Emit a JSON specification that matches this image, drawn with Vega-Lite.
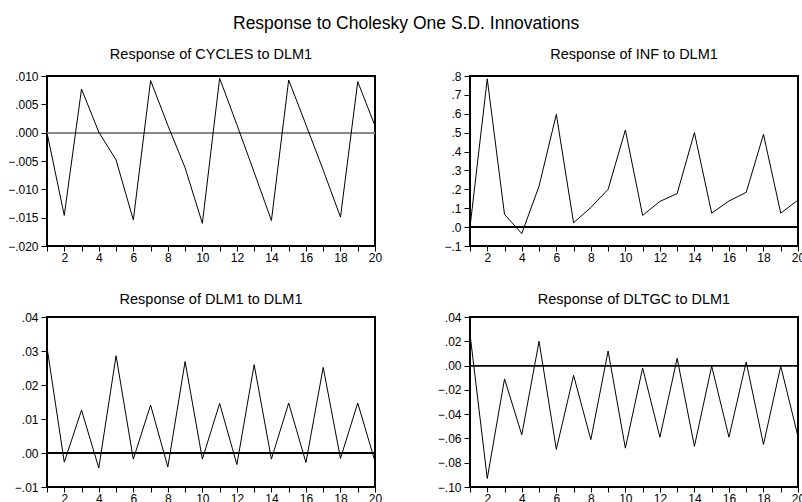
{
  "$schema": "https://vega.github.io/schema/vega-lite/v6.json",
  "background": "white",
  "padding": {"left": 6, "top": 15, "right": 0, "bottom": 0},
  "title": {"text": "Response to Cholesky One S.D. Innovations", "fontSize": 17.5, "fontWeight": "normal", "font": "Liberation Sans", "color": "black", "offset": 13, "anchor": "middle"},
  "config": {
    "font": "Liberation Sans",
    "view": {"stroke": "black", "strokeWidth": 2},
    "axis": {"grid": false, "domain": false, "tickColor": "black", "labelColor": "black", "labelFont": "Liberation Sans", "labelFontSize": 12, "labelOverlap": false, "title": null, "tickCount": 40},
    "axisY": {"tickSize": 6, "labelPadding": 3},
    "axisX": {"tickSize": 5, "labelPadding": 1},
    "line": {"color": "black", "strokeWidth": 1}
  },
  "bounds": "flush",
  "columns": 2,
  "spacing": {"row": 71, "column": 95},
  "datasets": {
    "irf": [
      {"resp": "CYCLES", "step": 1, "value": 0.0000},
      {"resp": "CYCLES", "step": 2, "value": -0.0146},
      {"resp": "CYCLES", "step": 3, "value": 0.0077},
      {"resp": "CYCLES", "step": 4, "value": 0.0001},
      {"resp": "CYCLES", "step": 5, "value": -0.0048},
      {"resp": "CYCLES", "step": 6, "value": -0.0154},
      {"resp": "CYCLES", "step": 7, "value": 0.0092},
      {"resp": "CYCLES", "step": 8, "value": 0.0013},
      {"resp": "CYCLES", "step": 9, "value": -0.0062},
      {"resp": "CYCLES", "step": 10, "value": -0.0160},
      {"resp": "CYCLES", "step": 11, "value": 0.0096},
      {"resp": "CYCLES", "step": 12, "value": 0.0014},
      {"resp": "CYCLES", "step": 13, "value": -0.0070},
      {"resp": "CYCLES", "step": 14, "value": -0.0155},
      {"resp": "CYCLES", "step": 15, "value": 0.0093},
      {"resp": "CYCLES", "step": 16, "value": 0.0014},
      {"resp": "CYCLES", "step": 17, "value": -0.0066},
      {"resp": "CYCLES", "step": 18, "value": -0.0149},
      {"resp": "CYCLES", "step": 19, "value": 0.0090},
      {"resp": "CYCLES", "step": 20, "value": 0.0012},
      {"resp": "INF", "step": 1, "value": 0.0},
      {"resp": "INF", "step": 2, "value": 0.785},
      {"resp": "INF", "step": 3, "value": 0.067},
      {"resp": "INF", "step": 4, "value": -0.034},
      {"resp": "INF", "step": 5, "value": 0.217},
      {"resp": "INF", "step": 6, "value": 0.597},
      {"resp": "INF", "step": 7, "value": 0.023},
      {"resp": "INF", "step": 8, "value": 0.104},
      {"resp": "INF", "step": 9, "value": 0.200},
      {"resp": "INF", "step": 10, "value": 0.514},
      {"resp": "INF", "step": 11, "value": 0.062},
      {"resp": "INF", "step": 12, "value": 0.136},
      {"resp": "INF", "step": 13, "value": 0.178},
      {"resp": "INF", "step": 14, "value": 0.500},
      {"resp": "INF", "step": 15, "value": 0.074},
      {"resp": "INF", "step": 16, "value": 0.138},
      {"resp": "INF", "step": 17, "value": 0.184},
      {"resp": "INF", "step": 18, "value": 0.491},
      {"resp": "INF", "step": 19, "value": 0.074},
      {"resp": "INF", "step": 20, "value": 0.143},
      {"resp": "DLM1", "step": 1, "value": 0.0311},
      {"resp": "DLM1", "step": 2, "value": -0.0027},
      {"resp": "DLM1", "step": 3, "value": 0.0126},
      {"resp": "DLM1", "step": 4, "value": -0.0044},
      {"resp": "DLM1", "step": 5, "value": 0.0286},
      {"resp": "DLM1", "step": 6, "value": -0.0018},
      {"resp": "DLM1", "step": 7, "value": 0.0141},
      {"resp": "DLM1", "step": 8, "value": -0.0041},
      {"resp": "DLM1", "step": 9, "value": 0.0269},
      {"resp": "DLM1", "step": 10, "value": -0.0018},
      {"resp": "DLM1", "step": 11, "value": 0.0146},
      {"resp": "DLM1", "step": 12, "value": -0.0034},
      {"resp": "DLM1", "step": 13, "value": 0.0260},
      {"resp": "DLM1", "step": 14, "value": -0.0018},
      {"resp": "DLM1", "step": 15, "value": 0.0147},
      {"resp": "DLM1", "step": 16, "value": -0.0028},
      {"resp": "DLM1", "step": 17, "value": 0.0252},
      {"resp": "DLM1", "step": 18, "value": -0.0016},
      {"resp": "DLM1", "step": 19, "value": 0.0147},
      {"resp": "DLM1", "step": 20, "value": -0.0025},
      {"resp": "DLTGC", "step": 1, "value": 0.026},
      {"resp": "DLTGC", "step": 2, "value": -0.093},
      {"resp": "DLTGC", "step": 3, "value": -0.011},
      {"resp": "DLTGC", "step": 4, "value": -0.057},
      {"resp": "DLTGC", "step": 5, "value": 0.020},
      {"resp": "DLTGC", "step": 6, "value": -0.069},
      {"resp": "DLTGC", "step": 7, "value": -0.008},
      {"resp": "DLTGC", "step": 8, "value": -0.061},
      {"resp": "DLTGC", "step": 9, "value": 0.012},
      {"resp": "DLTGC", "step": 10, "value": -0.068},
      {"resp": "DLTGC", "step": 11, "value": -0.002},
      {"resp": "DLTGC", "step": 12, "value": -0.059},
      {"resp": "DLTGC", "step": 13, "value": 0.006},
      {"resp": "DLTGC", "step": 14, "value": -0.0665},
      {"resp": "DLTGC", "step": 15, "value": -0.0005},
      {"resp": "DLTGC", "step": 16, "value": -0.059},
      {"resp": "DLTGC", "step": 17, "value": 0.003},
      {"resp": "DLTGC", "step": 18, "value": -0.065},
      {"resp": "DLTGC", "step": 19, "value": -0.0005},
      {"resp": "DLTGC", "step": 20, "value": -0.0585}
    ]
  },
  "concat": [
    {
      "width": 328, "height": 170,
      "title": {"text": "Response of CYCLES to DLM1", "fontSize": 14.5, "fontWeight": "normal", "font": "Liberation Sans", "color": "black", "offset": 8},
      "data": {"name": "irf"},
      "transform": [{"filter": "datum.resp === 'CYCLES'"}],
      "layer": [
        {"mark": {"type": "rule", "color": "#888888", "strokeWidth": 1.5}, "encoding": {"y": {"datum": 0, "type": "quantitative", "axis": {"tickCount": 40}}}},
        {"mark": "line", "encoding": {
          "x": {"field": "step", "type": "quantitative", "scale": {"domain": [1, 20], "nice": false, "zero": false}, "axis": {"values": [1,2,3,4,5,6,7,8,9,10,11,12,13,14,15,16,17,18,19,20], "tickCount": 40, "labelExpr": "datum.value % 2 === 0 ? datum.value : ''", "labelFlush": false}},
          "y": {"field": "value", "type": "quantitative", "scale": {"domain": [-0.02, 0.01], "nice": false, "zero": false}, "axis": {"values": [-0.02, -0.015, -0.01, -0.005, 0, 0.005, 0.01], "tickCount": 40, "labelExpr": "replace(format(datum.value, '.3f'), '0.', '.')", "labelFlush": false}}
        }}
      ]
    },
    {
      "width": 328, "height": 170,
      "title": {"text": "Response of INF to DLM1", "fontSize": 14.5, "fontWeight": "normal", "font": "Liberation Sans", "color": "black", "offset": 8},
      "data": {"name": "irf"},
      "transform": [{"filter": "datum.resp === 'INF'"}],
      "layer": [
        {"mark": {"type": "rule", "color": "black", "strokeWidth": 0.9}, "encoding": {"y": {"datum": 0, "type": "quantitative", "axis": {"tickCount": 40}}}},
        {"mark": "line", "encoding": {
          "x": {"field": "step", "type": "quantitative", "scale": {"domain": [1, 20], "nice": false, "zero": false}, "axis": {"values": [1,2,3,4,5,6,7,8,9,10,11,12,13,14,15,16,17,18,19,20], "tickCount": 40, "labelExpr": "datum.value % 2 === 0 ? datum.value : ''", "labelFlush": false}},
          "y": {"field": "value", "type": "quantitative", "scale": {"domain": [-0.1, 0.8], "nice": false, "zero": false}, "axis": {"values": [-0.1, 0, 0.1, 0.2, 0.3, 0.4, 0.5, 0.6, 0.7, 0.8], "tickCount": 40, "labelExpr": "replace(format(datum.value, '.1f'), '0.', '.')", "labelFlush": false}}
        }}
      ]
    },
    {
      "width": 328, "height": 170,
      "title": {"text": "Response of DLM1 to DLM1", "fontSize": 14.5, "fontWeight": "normal", "font": "Liberation Sans", "color": "black", "offset": 4},
      "data": {"name": "irf"},
      "transform": [{"filter": "datum.resp === 'DLM1'"}],
      "layer": [
        {"mark": {"type": "rule", "color": "black", "strokeWidth": 0.9}, "encoding": {"y": {"datum": 0, "type": "quantitative", "axis": {"tickCount": 40}}}},
        {"mark": "line", "encoding": {
          "x": {"field": "step", "type": "quantitative", "scale": {"domain": [1, 20], "nice": false, "zero": false}, "axis": {"values": [1,2,3,4,5,6,7,8,9,10,11,12,13,14,15,16,17,18,19,20], "tickCount": 40, "labelExpr": "datum.value % 2 === 0 ? datum.value : ''", "labelFlush": false}},
          "y": {"field": "value", "type": "quantitative", "scale": {"domain": [-0.01, 0.04], "nice": false, "zero": false}, "axis": {"values": [-0.01, 0, 0.01, 0.02, 0.03, 0.04], "tickCount": 40, "labelExpr": "replace(format(datum.value, '.2f'), '0.', '.')", "labelFlush": false}}
        }}
      ]
    },
    {
      "width": 328, "height": 170,
      "title": {"text": "Response of DLTGC to DLM1", "fontSize": 14.5, "fontWeight": "normal", "font": "Liberation Sans", "color": "black", "offset": 4},
      "data": {"name": "irf"},
      "transform": [{"filter": "datum.resp === 'DLTGC'"}],
      "layer": [
        {"mark": {"type": "rule", "color": "black", "strokeWidth": 0.9}, "encoding": {"y": {"datum": 0, "type": "quantitative", "axis": {"tickCount": 40}}}},
        {"mark": "line", "encoding": {
          "x": {"field": "step", "type": "quantitative", "scale": {"domain": [1, 20], "nice": false, "zero": false}, "axis": {"values": [1,2,3,4,5,6,7,8,9,10,11,12,13,14,15,16,17,18,19,20], "tickCount": 40, "labelExpr": "datum.value % 2 === 0 ? datum.value : ''", "labelFlush": false}},
          "y": {"field": "value", "type": "quantitative", "scale": {"domain": [-0.1, 0.04], "nice": false, "zero": false}, "axis": {"values": [-0.1, -0.08, -0.06, -0.04, -0.02, 0, 0.02, 0.04], "tickCount": 40, "labelExpr": "replace(format(datum.value, '.2f'), '0.', '.')", "labelFlush": false}}
        }}
      ]
    }
  ]
}
